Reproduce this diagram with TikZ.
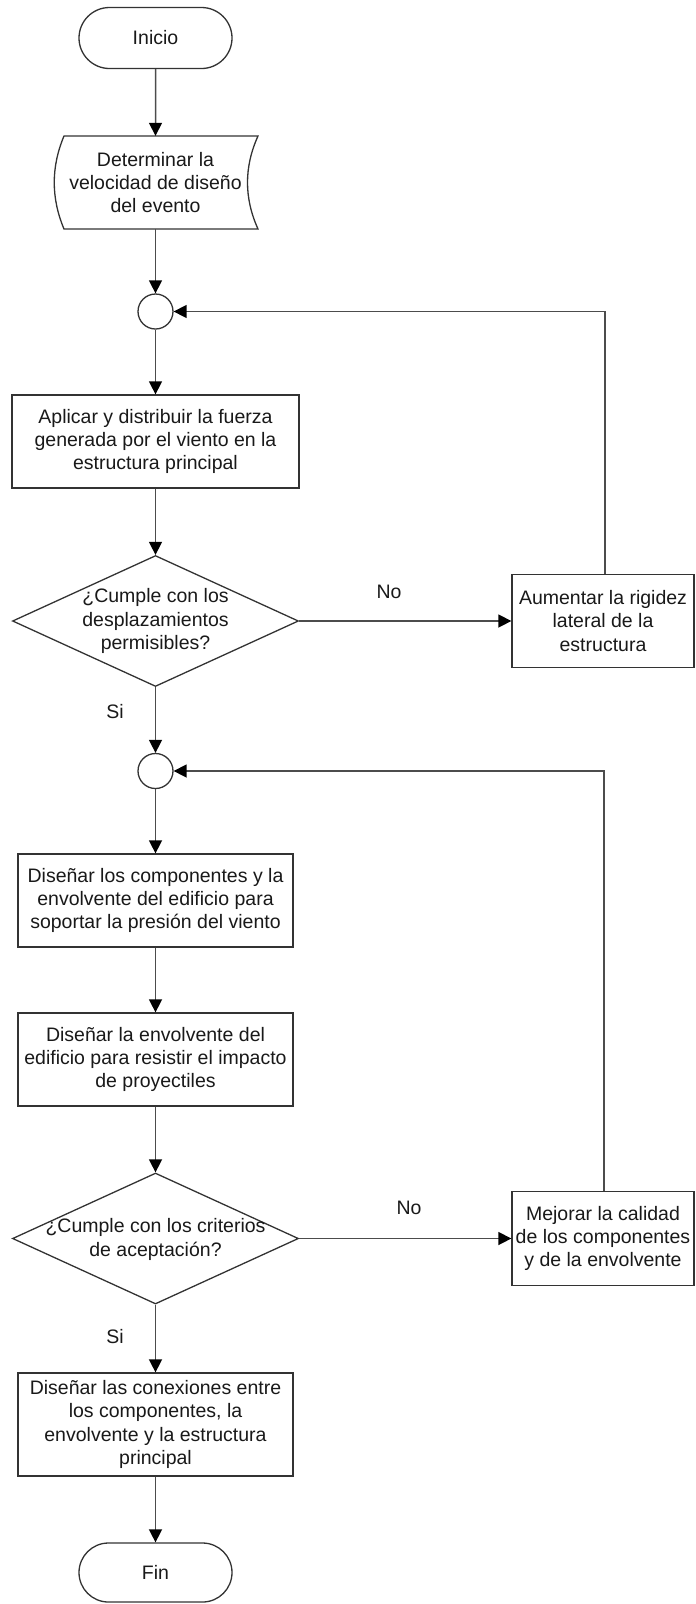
\documentclass[tikz,border=0pt]{standalone}
\usepackage{fontspec}
\setmainfont{Liberation Sans}
\usetikzlibrary{shapes.geometric,shapes.misc,arrows.meta}
\begin{document}
\begin{tikzpicture}[x=1pt,y=-1pt,
  every node/.style={font=\fontsize{19.5pt}{23.3pt}\selectfont, align=center, inner sep=0pt, text=black!90},
  shp/.style={draw=black!80, line width=1.3pt, fill=white},
  proc/.style={shp, rectangle, minimum height=93pt},
  term/.style={shp, rounded rectangle, minimum width=153pt, minimum height=61pt},
  dec/.style={shp, diamond, minimum width=286pt, minimum height=131pt},
  junc/.style={shp, circle, minimum size=35pt},
  arr/.style={draw=black!70, line width=1.5pt, -{Triangle[length=13pt,width=13pt,color=black]}}
]
\useasboundingbox (0,0) rectangle (696,1604);

% nodes
\node[term] (ini) at (155.5,38) {Inicio};

\draw[shp] (64,136) -- (258,136) .. controls (244,167) and (244,198) .. (258,229)
   -- (64,229) .. controls (51,198) and (51,167) .. (64,136) -- cycle;
\node[minimum width=190pt, minimum height=93pt] (det) at (155.5,182.5)
   {Determinar la\\velocidad de diseño\\del evento};

\node[junc] (c1) at (155.5,311.5) {};

\node[proc, minimum width=287pt] (apl) at (155.5,441.5)
   {Aplicar y distribuir la fuerza\\generada por el viento en la\\estructura principal};

\node[dec] (d1) at (155.5,621) {};
\node (d1t) at (d1) {¿Cumple con los\\desplazamientos\\permisibles?};

\node[proc, minimum width=182pt] (aum) at (603,621)
   {Aumentar la rigidez\\lateral de la\\estructura};

\node[junc] (c2) at (155.5,771) {};

\node[proc, minimum width=275pt] (dis1) at (155.5,900.5)
   {Diseñar los componentes y la\\envolvente del edificio para\\soportar la presión del viento};

\node[proc, minimum width=275pt] (dis2) at (155.5,1059.5)
   {Diseñar la envolvente del\\edificio para resistir el impacto\\de proyectiles};

\node[dec] (d2) at (155.5,1238.5) {};
\node (d2t) at (155.5,1239.5) {¿Cumple con los criterios\\de aceptación?};

\node[proc, minimum width=182pt, minimum height=94pt] (mej) at (603,1238.5)
   {Mejorar la calidad\\de los componentes\\y de la envolvente};

\node[proc, minimum width=275pt, minimum height=103pt] (con) at (155.5,1424.5)
   {Diseñar las conexiones entre\\los componentes, la\\envolvente y la estructura\\principal};

\node[term, minimum height=59pt] (fin) at (155.5,1572.5) {Fin};

% labels
\node (no1) at (389,592) {No};
\node (si1) at (115,712) {Si};
\node (no2) at (409,1208) {No};
\node (si2) at (115,1337) {Si};

% connectors
\draw[arr] (ini) -- (det);
\draw[arr] (det) -- (c1);
\draw[arr] (c1) -- (apl);
\draw[arr] (apl) -- (d1);
\draw[arr] (d1.east) -- (aum.west);
\draw[arr] (d1.south) -- (c2);
\coordinate (k1) at (605,311.5);
\draw[arr] (aum.north -| k1) -- (k1) -- (c1.east);
\draw[arr] (c2) -- (dis1);
\draw[arr] (dis1) -- (dis2);
\draw[arr] (dis2) -- (d2);
\draw[arr] (d2.east) -- (mej.west);
\draw[arr] (d2.south) -- (con);
\coordinate (k2) at (604,771);
\draw[arr] (mej.north -| k2) -- (k2) -- (c2.east);
\draw[arr] (con) -- (fin);
\end{tikzpicture}
\end{document}
